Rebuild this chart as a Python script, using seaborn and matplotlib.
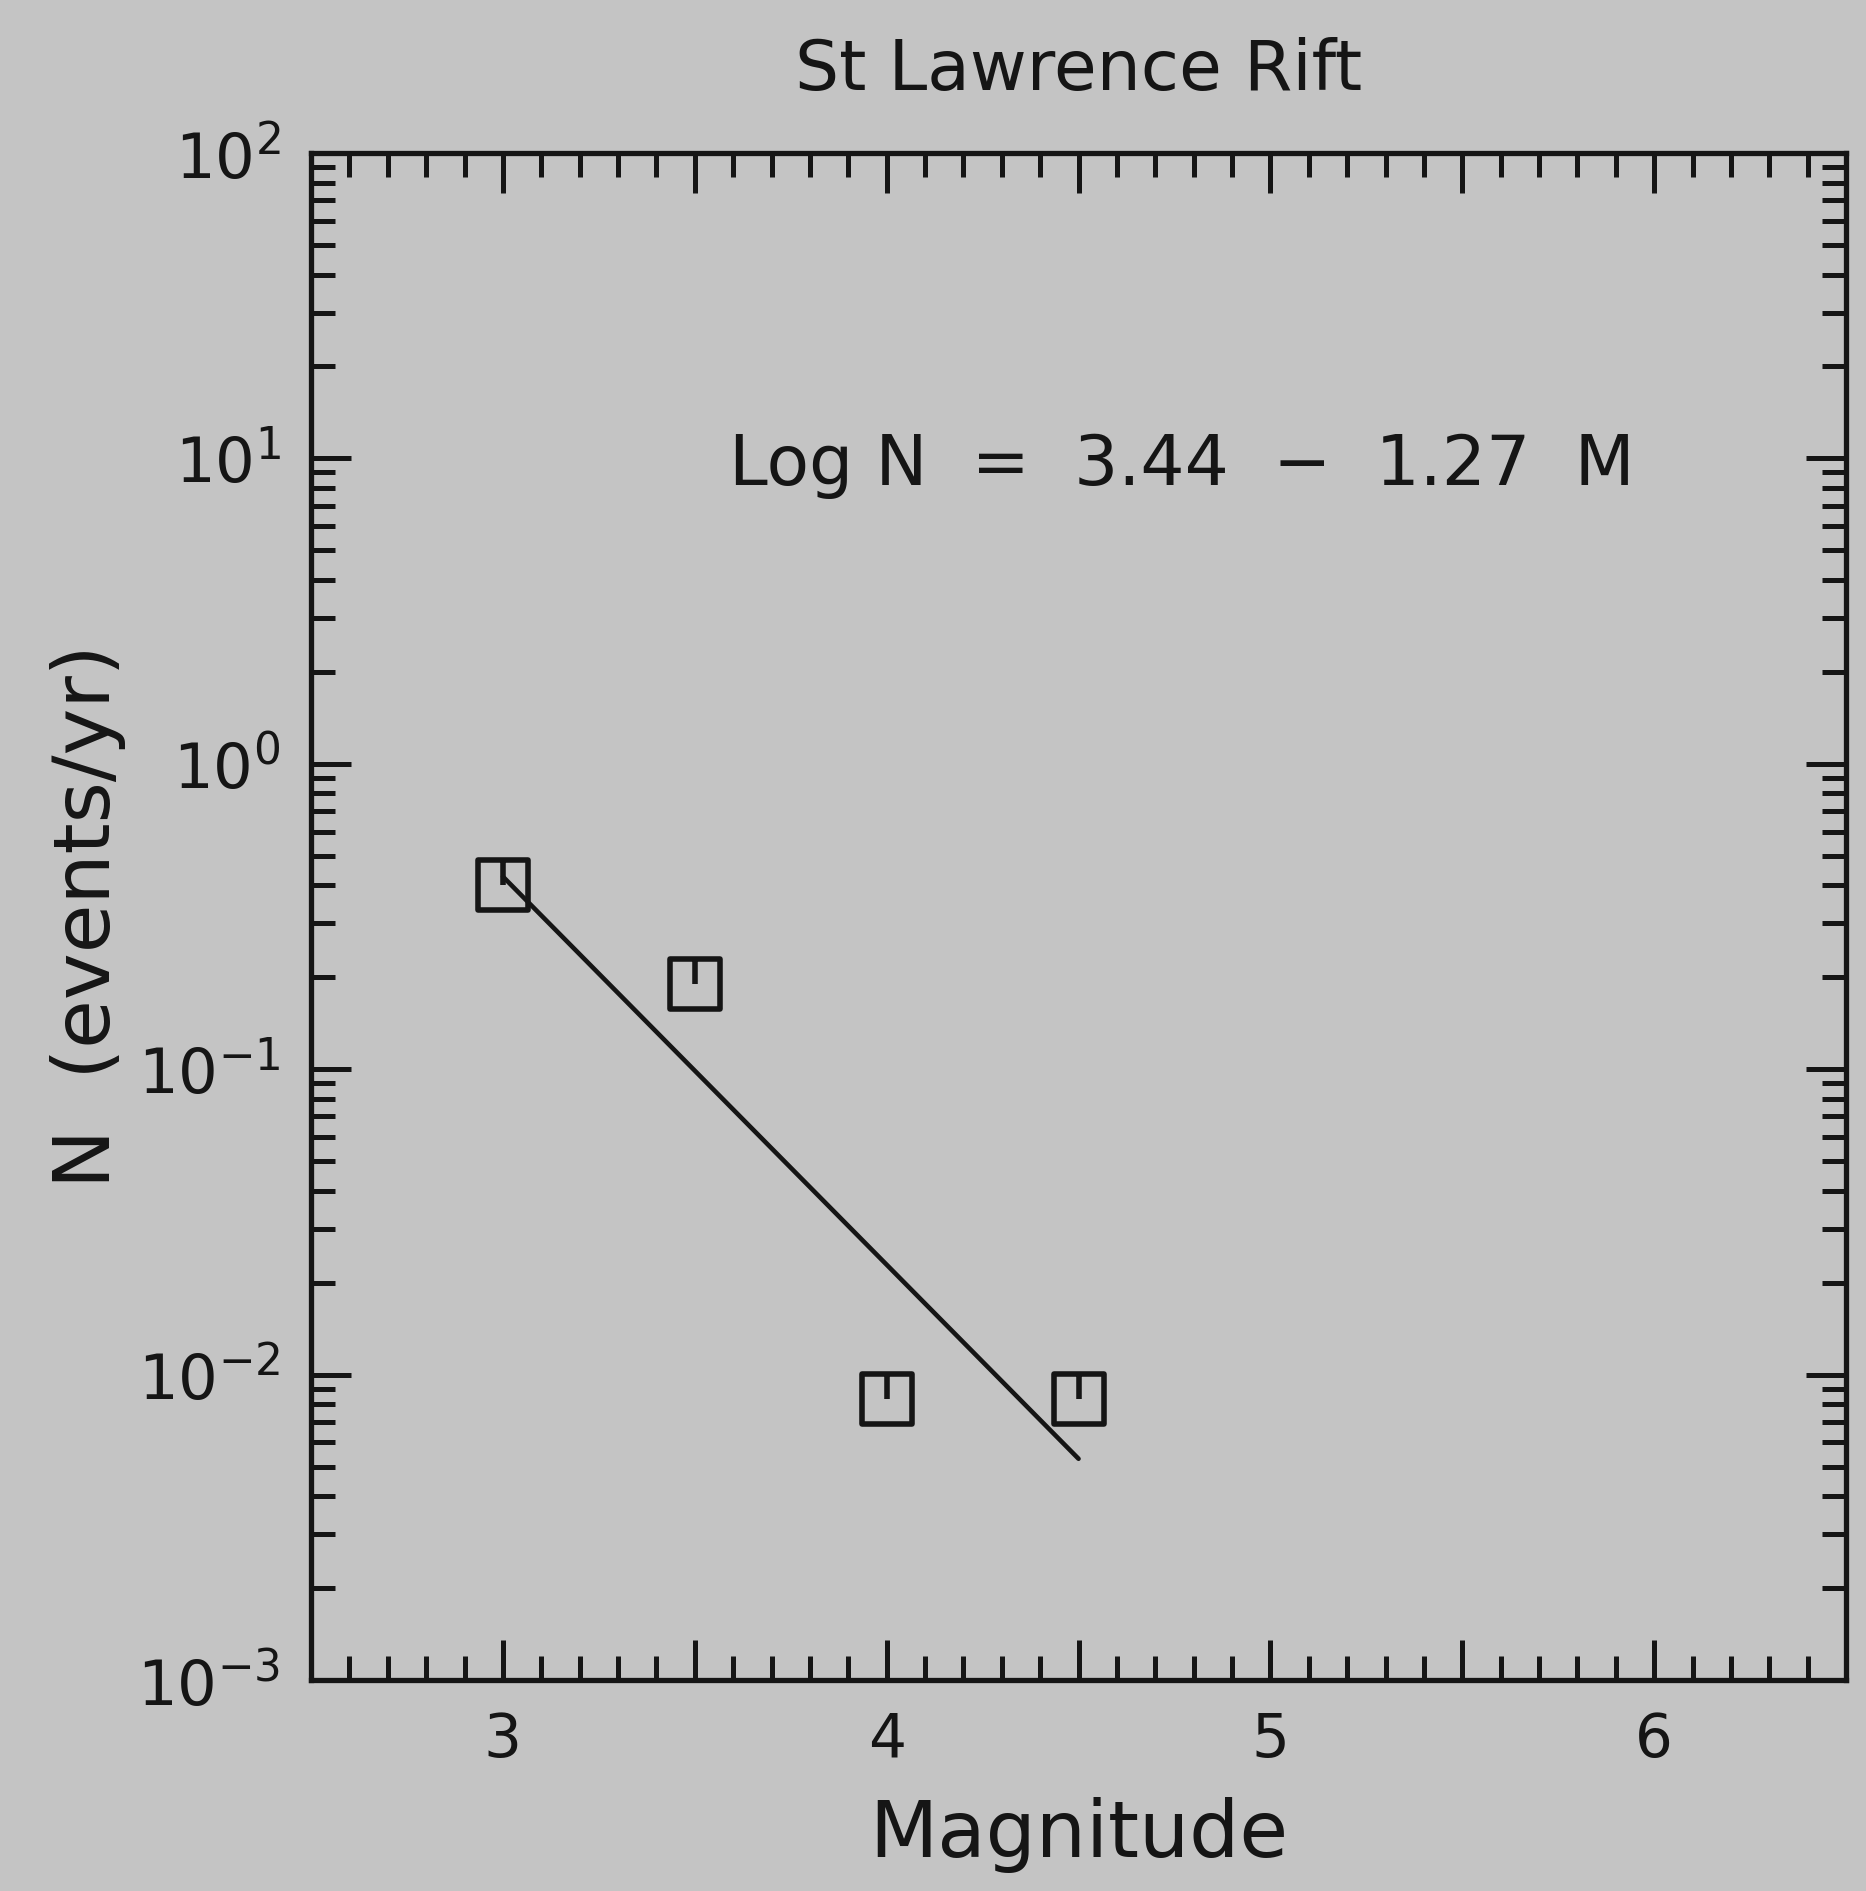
import numpy as np
import seaborn as sns
import matplotlib.pyplot as plt
from matplotlib.path import Path
from matplotlib.ticker import MultipleLocator, LogLocator, NullFormatter

# Data
magnitude = [3.0, 3.5, 4.0, 4.5]
rate = [0.40, 0.19, 0.0083, 0.0083]

# Fitted relation  Log N = 3.44 - 1.27 M, drawn between its end points
fit_mag = [3.0, 4.5]
fit_rate = [0.427, 0.0053]

title = "St Lawrence Rift"
fit_label = "Log N  =  3.44  \u2212  1.27  M"
x_ticks = [3, 4, 5, 6]

bg = "#c4c4c4"
ink = "#151515"

sns.set_style("ticks", {"axes.facecolor": bg, "figure.facecolor": bg})
plt.rcParams['font.family'] = ['DejaVu Sans']

fig = plt.figure(figsize=(18.66, 18.91), dpi=100)
ax = fig.add_axes([0.1667, 0.1116, 0.8226, 0.8075])

# square marker with a short bar from centre to top
verts = [(-1, -1), (1, -1), (1, 1), (-1, 1), (-1, -1), (0, 0), (0, 1)]
codes = [Path.MOVETO, Path.LINETO, Path.LINETO, Path.LINETO, Path.CLOSEPOLY,
         Path.MOVETO, Path.LINETO]
box_marker = Path(verts, codes)

sns.lineplot(x=fit_mag, y=fit_rate, color=ink, linewidth=3.3, ax=ax)
sns.scatterplot(x=magnitude, y=rate, marker=box_marker, s=36 ** 2,
                facecolors="none", edgecolor=ink, linewidth=4, ax=ax, zorder=3)

ax.set_yscale("log")
ax.set_xlim(2.5, 6.5)
ax.set_ylim(1e-3, 1e2)

ax.xaxis.set_minor_locator(MultipleLocator(0.1))
ax.set_xticks(np.arange(2.5, 6.51, 0.5))
ax.set_xticklabels([str(int(t)) if t in x_ticks else "" for t in np.arange(2.5, 6.51, 0.5)])
ax.yaxis.set_major_locator(LogLocator(base=10, numticks=10))
ax.yaxis.set_minor_locator(LogLocator(base=10, subs=np.arange(2, 10), numticks=20))
ax.yaxis.set_minor_formatter(NullFormatter())

for side in ["top", "right", "bottom", "left"]:
    ax.spines[side].set_visible(True)
    ax.spines[side].set_linewidth(3.8)
    ax.spines[side].set_color(ink)

ax.tick_params(which="both", direction="in", top=True, right=True,
               color=ink, width=3.6, labelcolor=ink)
ax.tick_params(which="major", length=29)
ax.tick_params(axis="x", which="major", pad=22, labelsize=43)
ax.tick_params(axis="y", which="major", pad=22, labelsize=45)
ax.tick_params(which="minor", length=17)

ax.text(3.59, 9.5, fit_label, fontsize=50, color=ink, va="center", ha="left")

ax.set_title(title, fontsize=50, color=ink, pad=45)
ax.set_xlabel("Magnitude", fontsize=57, color=ink, labelpad=20)
ax.set_ylabel("N  (events/yr)", fontsize=57, color=ink, labelpad=8)

fig.savefig("out.png", dpi=100, facecolor=bg)
